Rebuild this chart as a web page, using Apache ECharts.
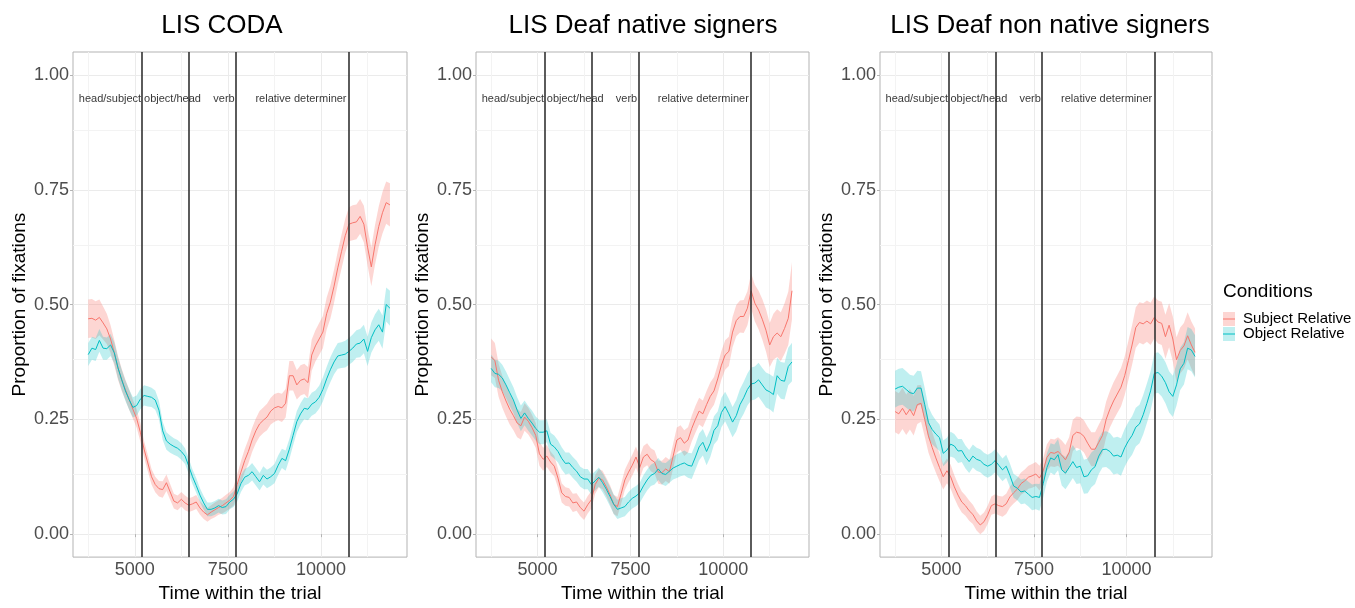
<!DOCTYPE html>
<html>
<head>
<meta charset="utf-8">
<title>Proportion of fixations</title>
<script src="https://cdn.jsdelivr.net/npm/echarts@6.0.0/dist/echarts.min.js"></script>
<style>
  html, body { margin: 0; padding: 0; background: #fff; }
  #chart { width: 1355px; height: 608px; }
</style>
</head>
<body>
<div id="chart"></div>
<script>
// time within the trial (ms)
const times = [
  3750, 3850, 3950, 4050, 4150, 4250, 4350, 4450, 4550, 4650,
  4750, 4850, 4950, 5050, 5150, 5250, 5350, 5450, 5550, 5650,
  5750, 5850, 5950, 6050, 6150, 6250, 6350, 6450, 6550, 6650,
  6750, 6850, 6950, 7050, 7150, 7250, 7350, 7450, 7550, 7650,
  7750, 7850, 7950, 8050, 8150, 8250, 8350, 8450, 8550, 8650,
  8750, 8850, 8950, 9050, 9150, 9250, 9350, 9450, 9550, 9650,
  9750, 9850, 9950, 10050, 10150, 10250, 10350, 10450, 10550, 10650,
  10750, 10850, 10950, 11050, 11150, 11250, 11350, 11450, 11550, 11650,
  11750, 11850
];

const panelTitles = ['LIS CODA', 'LIS Deaf native signers', 'LIS Deaf non native signers'];
const conditions = ['Subject Relative', 'Object Relative'];

// region boundaries and labels
const boundaries = [5200, 6460, 7720, 10750];
const regionNames = ['head/subject', 'object/head', 'verb', 'relative determiner'];
const regionX = [4335, 6013, 7395, 9462];

const xTicks = [5000, 7500, 10000];
const yTicks = [0, 0.25, 0.5, 0.75, 1];
const xMinor = [3750, 6250, 8750, 11250];
const yMinor = [0.125, 0.375, 0.625, 0.875];

// LIS CODA
const codaSubj = [
  0.469, 0.470, 0.466, 0.472, 0.460, 0.447, 0.425, 0.395, 0.362, 0.336,
  0.314, 0.293, 0.272, 0.252, 0.222, 0.185, 0.155, 0.125, 0.108, 0.099,
  0.097, 0.112, 0.092, 0.072, 0.068, 0.076, 0.068, 0.063, 0.066, 0.070,
  0.057, 0.048, 0.042, 0.048, 0.053, 0.058, 0.062, 0.068, 0.074, 0.082,
  0.108, 0.135, 0.160, 0.180, 0.205, 0.225, 0.240, 0.248, 0.255, 0.268,
  0.275, 0.278, 0.275, 0.285, 0.345, 0.345, 0.325, 0.335, 0.338, 0.330,
  0.390, 0.410, 0.425, 0.440, 0.480, 0.505, 0.540, 0.580, 0.615, 0.650,
  0.675, 0.678, 0.680, 0.692, 0.675, 0.625, 0.582, 0.630, 0.670, 0.700,
  0.722, 0.717
];
const codaSubjSe = [
  0.042, 0.042, 0.041, 0.039, 0.036, 0.033, 0.030, 0.028,
  0.026, 0.024, 0.022, 0.022, 0.020, 0.020, 0.020,
  0.018, 0.018, 0.017, 0.017, 0.017, 0.018, 0.018, 0.017, 0.016, 0.016,
  0.016, 0.016, 0.015, 0.015, 0.015, 0.015, 0.015, 0.015, 0.015, 0.016,
  0.016, 0.017, 0.018, 0.018, 0.020, 0.022,
  0.024, 0.025, 0.026, 0.026, 0.027, 0.028, 0.028, 0.029, 0.029, 0.030,
  0.030, 0.031, 0.031, 0.032, 0.032,
  0.032, 0.033, 0.033, 0.034, 0.034, 0.034, 0.035, 0.035, 0.035, 0.036, 0.036,
  0.036, 0.037, 0.037, 0.037, 0.038, 0.038, 0.038, 0.040, 0.040,
  0.042, 0.043, 0.044, 0.045, 0.046, 0.047
];
const codaObj = [
  0.391, 0.405, 0.402, 0.422, 0.405, 0.404, 0.412, 0.395, 0.362, 0.336,
  0.312, 0.293, 0.276, 0.280, 0.294, 0.302, 0.300, 0.298, 0.292, 0.270,
  0.225, 0.203, 0.196, 0.191, 0.187, 0.180, 0.170, 0.148, 0.125, 0.106,
  0.085, 0.068, 0.054, 0.054, 0.057, 0.062, 0.058, 0.060, 0.070, 0.076,
  0.088, 0.110, 0.124, 0.128, 0.136, 0.125, 0.114, 0.128, 0.120, 0.125,
  0.132, 0.150, 0.165, 0.160, 0.185, 0.215, 0.245, 0.262, 0.274, 0.272,
  0.283, 0.288, 0.298, 0.315, 0.338, 0.358, 0.375, 0.388, 0.390, 0.392,
  0.398, 0.405, 0.414, 0.416, 0.425, 0.398, 0.428, 0.445, 0.456, 0.440,
  0.500, 0.492
];
const codaObjSe = [
  0.025, 0.025, 0.025, 0.025, 0.025, 0.024, 0.024, 0.023, 0.023, 0.022, 0.022,
  0.022, 0.022, 0.022, 0.022, 0.022, 0.022, 0.021, 0.021, 0.020, 0.020,
  0.019, 0.019, 0.018, 0.018, 0.018, 0.017, 0.017, 0.016, 0.016, 0.015,
  0.015, 0.015, 0.015, 0.015, 0.015, 0.015, 0.016, 0.016, 0.017, 0.017,
  0.018, 0.018, 0.018, 0.019, 0.019, 0.019, 0.020, 0.020, 0.020, 0.021,
  0.021, 0.021, 0.022, 0.022, 0.022, 0.023, 0.023, 0.024, 0.024, 0.025,
  0.025, 0.025, 0.026, 0.026, 0.027, 0.027, 0.028, 0.028, 0.029, 0.029,
  0.030, 0.030, 0.031, 0.031, 0.032, 0.033, 0.034, 0.035, 0.036, 0.037, 0.038
];

// LIS Deaf native signers
const nativeSubj = [
  0.386, 0.378, 0.335, 0.310, 0.290, 0.272, 0.258, 0.242, 0.236, 0.255,
  0.246, 0.232, 0.215, 0.175, 0.163, 0.170, 0.157, 0.148, 0.122, 0.090,
  0.082, 0.080, 0.068, 0.070, 0.058, 0.050, 0.064, 0.075, 0.108, 0.122,
  0.118, 0.103, 0.086, 0.065, 0.060, 0.088, 0.118, 0.135, 0.150, 0.168,
  0.145, 0.168, 0.174, 0.162, 0.157, 0.135, 0.134, 0.142, 0.136, 0.170,
  0.205, 0.210, 0.198, 0.205, 0.230, 0.250, 0.268, 0.262, 0.282, 0.300,
  0.312, 0.338, 0.368, 0.390, 0.398, 0.440, 0.465, 0.474, 0.474, 0.492,
  0.530, 0.503, 0.488, 0.468, 0.444, 0.412, 0.430, 0.438, 0.430, 0.448,
  0.470, 0.530
];
const nativeSubjSe = [
  0.040, 0.038, 0.036, 0.035, 0.034, 0.033, 0.032, 0.031, 0.030, 0.030,
  0.029, 0.028, 0.027, 0.026, 0.025, 0.024,
  0.023, 0.022, 0.021, 0.021, 0.020, 0.020, 0.020, 0.019, 0.019, 0.019,
  0.019, 0.019, 0.020, 0.020, 0.020, 0.020, 0.021, 0.021, 0.021, 0.022,
  0.022, 0.022, 0.023, 0.023, 0.024,
  0.024, 0.024, 0.025, 0.025, 0.025, 0.026, 0.026, 0.026, 0.027, 0.027,
  0.027, 0.028, 0.028, 0.028, 0.029, 0.029, 0.029, 0.030, 0.030, 0.030,
  0.031, 0.031, 0.032, 0.032, 0.033, 0.034, 0.035, 0.036, 0.037, 0.038,
  0.040, 0.042, 0.044, 0.046, 0.048, 0.050, 0.052, 0.053, 0.055, 0.058, 0.062
];
const nativeObj = [
  0.361, 0.350, 0.348, 0.340, 0.325, 0.308, 0.292, 0.270, 0.252, 0.264,
  0.252, 0.242, 0.230, 0.222, 0.222, 0.225, 0.196, 0.190, 0.180, 0.165,
  0.154, 0.155, 0.145, 0.137, 0.125, 0.120, 0.120, 0.108, 0.116, 0.124,
  0.112, 0.098, 0.082, 0.065, 0.054, 0.057, 0.060, 0.070, 0.078, 0.083,
  0.090, 0.105, 0.118, 0.128, 0.132, 0.142, 0.132, 0.130, 0.137, 0.144,
  0.148, 0.152, 0.155, 0.150, 0.148, 0.168, 0.190, 0.200, 0.180, 0.198,
  0.226, 0.236, 0.265, 0.278, 0.262, 0.244, 0.258, 0.282, 0.297, 0.315,
  0.327, 0.329, 0.336, 0.325, 0.314, 0.310, 0.304, 0.345, 0.335, 0.333,
  0.365, 0.375
];
const nativeObjSe = [
  0.030, 0.030, 0.030, 0.029, 0.029, 0.029, 0.028, 0.028, 0.028, 0.027,
  0.027, 0.027, 0.026, 0.026, 0.026, 0.025, 0.025, 0.025, 0.024, 0.024,
  0.024, 0.023, 0.023, 0.023, 0.022, 0.022, 0.022, 0.022, 0.021, 0.021, 0.021,
  0.021, 0.021, 0.021, 0.021, 0.021, 0.021, 0.022, 0.022, 0.022, 0.022,
  0.023, 0.023, 0.023, 0.024, 0.024, 0.024, 0.025, 0.025, 0.025, 0.026,
  0.026, 0.027, 0.027, 0.028, 0.028, 0.029, 0.029, 0.030, 0.030, 0.031,
  0.031, 0.032, 0.032, 0.033, 0.033, 0.034, 0.034, 0.035, 0.035, 0.036,
  0.036, 0.037, 0.037, 0.038, 0.038, 0.039, 0.039, 0.040, 0.040, 0.041, 0.042
];

// LIS Deaf non native signers
const nonNativeSubj = [
  0.267, 0.262, 0.274, 0.260, 0.272, 0.258, 0.282, 0.285, 0.250, 0.214,
  0.189, 0.166, 0.145, 0.125, 0.138, 0.125, 0.103, 0.085, 0.070, 0.062,
  0.051, 0.043, 0.029, 0.020, 0.027, 0.042, 0.062, 0.066, 0.062, 0.060,
  0.066, 0.081, 0.090, 0.098, 0.110, 0.116, 0.124, 0.127, 0.131, 0.122,
  0.138, 0.167, 0.178, 0.176, 0.180, 0.172, 0.162, 0.178, 0.215, 0.222,
  0.220, 0.213, 0.198, 0.185, 0.185, 0.200, 0.215, 0.250, 0.272, 0.290,
  0.305, 0.320, 0.345, 0.378, 0.412, 0.450, 0.461, 0.458, 0.464, 0.458,
  0.472, 0.462, 0.459, 0.430, 0.455, 0.425, 0.380, 0.400, 0.410, 0.432,
  0.412, 0.396
];
const nonNativeSubjSe = [
  0.045, 0.045, 0.045, 0.044, 0.044, 0.043, 0.042, 0.040, 0.038, 0.036, 0.034,
  0.032, 0.030, 0.028, 0.027, 0.026, 0.025, 0.024, 0.023, 0.022, 0.022,
  0.021, 0.021, 0.020, 0.020, 0.020, 0.020, 0.021, 0.021, 0.022, 0.022,
  0.023, 0.023, 0.024, 0.024, 0.025, 0.025, 0.026, 0.026, 0.027, 0.028,
  0.029, 0.030, 0.030, 0.031, 0.032, 0.032, 0.033, 0.034, 0.034, 0.035,
  0.035, 0.036, 0.037, 0.037, 0.038, 0.039, 0.039, 0.040, 0.041, 0.041,
  0.042, 0.042, 0.043, 0.043, 0.044, 0.044, 0.045, 0.045, 0.046, 0.046,
  0.047, 0.047, 0.048, 0.048, 0.049, 0.049, 0.050, 0.050, 0.051, 0.051, 0.052
];
const nonNativeObj = [
  0.316, 0.320, 0.322, 0.315, 0.308, 0.306, 0.318, 0.318, 0.282, 0.243,
  0.228, 0.218, 0.210, 0.176, 0.183, 0.196, 0.192, 0.181, 0.182, 0.168,
  0.158, 0.170, 0.163, 0.160, 0.152, 0.148, 0.152, 0.160, 0.150, 0.140,
  0.148, 0.128, 0.105, 0.100, 0.092, 0.094, 0.087, 0.080, 0.082, 0.080,
  0.110, 0.145, 0.166, 0.162, 0.173, 0.140, 0.133, 0.145, 0.158, 0.145,
  0.148, 0.125, 0.127, 0.140, 0.147, 0.170, 0.184, 0.185, 0.180, 0.170,
  0.172, 0.168, 0.188, 0.203, 0.215, 0.233, 0.240, 0.260, 0.285, 0.312,
  0.350, 0.352, 0.344, 0.330, 0.310, 0.300, 0.325, 0.360, 0.372, 0.405,
  0.401, 0.387
];
const nonNativeObjSe = [
  0.040, 0.040, 0.040, 0.040, 0.039, 0.039, 0.038, 0.037, 0.036, 0.034, 0.032,
  0.030, 0.029, 0.028, 0.027, 0.027, 0.026, 0.026, 0.025, 0.025, 0.025,
  0.025, 0.025, 0.025, 0.025, 0.025, 0.025, 0.025, 0.025, 0.025, 0.025,
  0.026, 0.026, 0.026, 0.027, 0.027, 0.027, 0.028, 0.028, 0.029, 0.030,
  0.031, 0.032, 0.033, 0.034, 0.034, 0.035, 0.035, 0.036, 0.036, 0.037,
  0.037, 0.038, 0.038, 0.038, 0.039, 0.039, 0.039, 0.040, 0.040, 0.040,
  0.041, 0.041, 0.041, 0.042, 0.042, 0.042, 0.043, 0.043, 0.043, 0.044,
  0.044, 0.044, 0.045, 0.045, 0.045, 0.045, 0.046, 0.046, 0.046, 0.046, 0.046
];

const panelData = [
  [codaSubj, codaSubjSe, codaObj, codaObjSe],
  [nativeSubj, nativeSubjSe, nativeObj, nativeObjSe],
  [nonNativeSubj, nonNativeSubjSe, nonNativeObj, nonNativeObjSe]
];

const FONT = '"Liberation Sans", Arial, Helvetica, sans-serif';
const lineColors = ['#F8766D', '#00BFC4'];
const bandColors = ['rgba(248,118,109,0.30)', 'rgba(0,191,196,0.25)'];

const gridLefts = [73, 476, 880];
const gridWidths = [334, 333, 332];
const titleCenters = [217, 638, 1045];

const chart = echarts.init(document.getElementById('chart'), null, { renderer: 'canvas' });

const grids = [], xAxes = [], yAxes = [], series = [], titles = [];

// ribbon drawn once as a single polygon through the axis scales
function bandRenderer(mean, se, color) {
  return function (params, api) {
    if (params.dataIndex !== 0) return null;
    const pts = [];
    for (let k = 0; k < times.length; k++) pts.push(api.coord([times[k], mean[k] - se[k]]));
    for (let k = times.length - 1; k >= 0; k--) pts.push(api.coord([times[k], mean[k] + se[k]]));
    return { type: 'polygon', shape: { points: pts }, style: { fill: color }, silent: true };
  };
}

panelTitles.forEach((name, p) => {
  titles.push({
    text: name, left: titleCenters[p], top: 8, textAlign: 'center',
    textStyle: { fontFamily: FONT, fontSize: 26, fontWeight: 'normal', color: '#000' }
  });
  grids.push({
    left: gridLefts[p], top: 52, width: gridWidths[p], height: 518,
    show: true, borderColor: '#B3B3B3', borderWidth: 1, backgroundColor: '#fff'
  });
  xAxes.push({
    type: 'value', gridIndex: p, min: 3342, max: 12308,
    name: 'Time within the trial', nameLocation: 'middle', nameGap: 21,
    nameTextStyle: { fontFamily: FONT, fontSize: 19, color: '#000' },
    axisLine: { show: false },
    axisTick: { show: true, length: 3, customValues: xTicks, lineStyle: { color: '#B3B3B3' } },
    axisLabel: {
      customValues: xTicks, margin: 4, fontFamily: FONT, fontSize: 18, color: '#4D4D4D',
      formatter: v => String(v)
    },
    splitLine: { show: true, lineStyle: { color: '#EBEBEB', width: 1 } }
  });
  yAxes.push({
    type: 'value', gridIndex: p, min: -0.05, max: 1.05,
    name: 'Proportion of fixations', nameLocation: 'middle', nameGap: 44,
    nameTextStyle: { fontFamily: FONT, fontSize: 19, color: '#000' },
    axisLine: { show: false },
    axisTick: { show: true, length: 3, customValues: yTicks, lineStyle: { color: '#B3B3B3' } },
    axisLabel: {
      customValues: yTicks, margin: 4, fontFamily: FONT, fontSize: 18, color: '#4D4D4D',
      formatter: v => v.toFixed(2)
    },
    splitLine: { show: true, lineStyle: { color: '#EBEBEB', width: 1 } }
  });

  // faint minor grid underneath everything, as in theme_light
  series.push({
    type: 'line', xAxisIndex: p, yAxisIndex: p, data: [], silent: true, z: 0,
    markLine: {
      z: 0, silent: true, symbol: 'none', label: { show: false }, animation: false,
      lineStyle: { color: '#F3F3F3', width: 1, type: 'solid' },
      data: xMinor.map(v => ({ xAxis: v })).concat(yMinor.map(v => ({ yAxis: v })))
    }
  });

  const d = panelData[p];
  // confidence ribbons
  [0, 1].forEach(c => {
    const mean = d[c * 2], se = d[c * 2 + 1];
    series.push({
      type: 'custom', xAxisIndex: p, yAxisIndex: p, silent: true, clip: true, z: 1,
      data: times.map((t, k) => [t, mean[k] - se[k], mean[k] + se[k]]),
      encode: { x: 0, y: [1, 2] },
      renderItem: bandRenderer(mean, se, bandColors[c])
    });
  });
  // mean lines
  [0, 1].forEach(c => {
    const mean = d[c * 2];
    series.push({
      name: conditions[c], type: 'line', xAxisIndex: p, yAxisIndex: p,
      data: times.map((t, k) => [t, mean[k]]),
      symbol: 'none', lineStyle: { color: lineColors[c], width: 1 }, z: 3,
      markLine: c === 0 ? {
        silent: true, symbol: 'none', label: { show: false }, animation: false,
        lineStyle: { color: '#333', width: 1.6, type: 'solid' },
        data: boundaries.map(b => ({ xAxis: b }))
      } : undefined
    });
  });
  // region labels
  series.push({
    type: 'scatter', xAxisIndex: p, yAxisIndex: p, symbolSize: 0, silent: true, z: 5,
    data: regionX.map((x, k) => ({ value: [x, 0.947], name: regionNames[k] })),
    label: {
      show: true, position: 'inside', formatter: '{b}',
      fontFamily: FONT, fontSize: 11, color: '#000'
    }
  });
});

// legend drawn as ggplot-style keys
const legendGraphic = [{
  type: 'text', left: 1223, top: 282,
  style: { text: 'Conditions', fontFamily: FONT, fontSize: 19, fill: '#000' }
}];
conditions.forEach((c, k) => {
  const y = 312 + k * 15;
  legendGraphic.push({
    type: 'rect', shape: { x: 1223, y: y, width: 12, height: 14 },
    style: { fill: bandColors[k] }
  });
  legendGraphic.push({
    type: 'line', shape: { x1: 1223, y1: y + 7, x2: 1235, y2: y + 7 },
    style: { stroke: lineColors[k], lineWidth: 1 }
  });
  legendGraphic.push({
    type: 'text', left: 1243, top: y - 1,
    style: { text: c, fontFamily: FONT, fontSize: 15, fill: '#000' }
  });
});

chart.setOption({
  animation: false,
  backgroundColor: '#fff',
  title: titles,
  grid: grids,
  xAxis: xAxes,
  yAxis: yAxes,
  series: series,
  graphic: legendGraphic
});
</script>
</body>
</html>
